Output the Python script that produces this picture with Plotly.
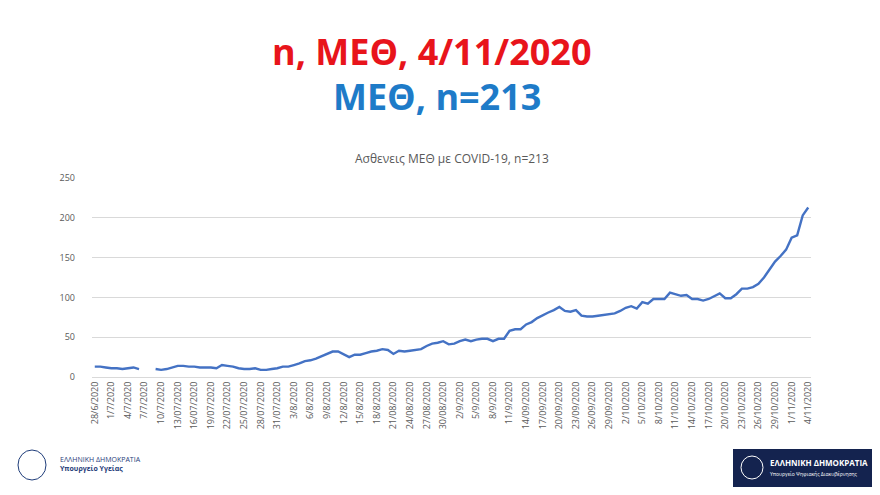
import pandas as pd
import plotly.graph_objects as go

# daily ICU patients, 28/6/2020 .. 4/11/2020 (None = missing)
june = [13, 13, 12]
july = [11, 11, 10, 11, 12, 10, None, None, 10, 9, 10, 12, 14, 14, 13, 13, 12, 12, 12,
        11, 15, 14, 13, 11, 10, 10, 11, 9, 9, 10, 11]
august = [13, 13, 15, 17, 20, 21, 23, 26, 29, 32, 32, 29, 25, 28, 28, 30, 32, 33, 35, 34,
          29, 33, 32, 33, 34, 35, 39, 42, 43, 45, 41]
september = [42, 45, 47, 45, 47, 48, 48, 45, 48, 48, 58, 60, 60, 66, 69, 74, 78, 81, 84, 88,
             83, 82, 84, 77, 76, 76, 77, 78, 79, 80]
october = [83, 87, 89, 86, 94, 92, 98, 98, 98, 106, 104, 102, 103, 98, 98, 96, 98, 101, 105, 99,
           99, 104, 111, 111, 113, 117, 125, 135, 145, 152, 160]
november = [175, 178, 203, 213]
values = june + july + august + september + october + november

dates = pd.date_range("2020-06-28", "2020-11-04").strftime("%d/%m/%Y").tolist()

tick_labels = ["28/6/2020", "1/7/2020", "4/7/2020", "7/7/2020", "10/7/2020", "13/07/2020",
               "16/07/2020", "19/07/2020", "22/07/2020", "25/07/2020", "28/07/2020", "31/07/2020",
               "3/8/2020", "6/8/2020", "9/8/2020", "12/8/2020", "15/8/2020", "18/8/2020",
               "21/08/2020", "24/08/2020", "27/08/2020", "30/08/2020", "2/9/2020", "5/9/2020",
               "8/9/2020", "11/9/2020", "14/09/2020", "17/09/2020", "20/09/2020", "23/09/2020",
               "26/09/2020", "29/09/2020", "2/10/2020", "5/10/2020", "8/10/2020", "11/10/2020",
               "14/10/2020", "17/10/2020", "20/10/2020", "23/10/2020", "26/10/2020",
               "29/10/2020", "1/11/2020", "4/11/2020"]
tick_vals = dates[::3]

W, H = 880, 495
OFF = 7  # vertical page offset of the figure in the screenshot

fig = go.Figure(go.Scatter(x=dates, y=values, mode="lines",
                           line=dict(color="#4472C4", width=2.4), connectgaps=False,
                           hoverinfo="skip", showlegend=False))

fig.update_layout(
    width=W, height=H, paper_bgcolor="white", plot_bgcolor="white",
    margin=dict(l=84, r=77, t=177 - OFF, b=119 + OFF),
    font=dict(family="Open Sans", color="#595959"),
    xaxis=dict(type="category", tickvals=tick_vals, ticktext=tick_labels, tickangle=-90,
               tickfont=dict(size=9), showgrid=False, showline=True, linecolor="#d9d9d9",
               range=[-0.5, len(dates) - 0.5], automargin=False),
    yaxis=dict(range=[0, 250], dtick=50, gridcolor="#d9d9d9", tickfont=dict(size=9),
               zeroline=False, ticks="", ticklabelstandoff=16, automargin=False),
    annotations=[
        dict(text="<b>n, ΜΕΘ, 4/11/2020</b>", x=423, y=50, xref="paper", yref="paper",
             showarrow=False, font=dict(size=36, color="#E8141B", family="Open Sans")),
        dict(text="<b>ΜΕΘ, n=213</b>", x=429, y=96, xref="paper", yref="paper",
             showarrow=False, font=dict(size=36, color="#1E7BC8", family="Open Sans")),
        dict(text="Ασθενεις ΜΕΘ με COVID-19, n=213", x=0.5, y=157, xref="paper", yref="paper",
             showarrow=False, font=dict(size=12, color="#595959")),
        dict(text="ΕΛΛΗΝΙΚΗ ΔΗΜΟΚΡΑΤΙΑ<br><b>Υπουργείο Υγείας</b>", x=50, y=463,
             xref="paper", yref="paper", xanchor="left", align="left", showarrow=False,
             font=dict(size=7, color="#1F3D7A")),
        dict(text="<b>ΕΛΛΗΝΙΚΗ ΔΗΜΟΚΡΑΤΙΑ</b><br><span style='font-size:5px'>Υπουργείο Ψηφιακής Διακυβέρνησης</span>",
             x=760, y=466, xref="paper", yref="paper", xanchor="left", align="left",
             showarrow=False, font=dict(size=8, color="white")),
    ],
    shapes=[
        dict(type="rect", xref="paper", yref="paper", x0=725, x1=870, y0=448, y1=486,
             fillcolor="#14234F", line=dict(width=0), layer="below"),
        dict(type="circle", xref="paper", yref="paper", x0=733, x1=755, y0=455, y1=478,
             line=dict(color="white", width=1)),
        dict(type="circle", xref="paper", yref="paper", x0=10, x1=38, y0=449, y1=479,
             line=dict(color="#1F3D7A", width=1)),
    ],
)

# convert screenshot pixel positions of annotations/shapes to paper coords
m = fig.layout.margin
pw, ph = W - m.l - m.r, H - m.t - m.b
px = lambda v: (v - m.l) / pw
py = lambda v: (H - m.b - (v - OFF)) / ph
for a in fig.layout.annotations:
    a.x = px(a.x) if a.x > 1 else a.x
    a.y = py(a.y)
    a.yanchor = "middle"
for s in fig.layout.shapes:
    s.x0, s.x1 = px(s.x0), px(s.x1)
    s.y0, s.y1 = py(s.y1), py(s.y0)

fig.write_html("out.html")
